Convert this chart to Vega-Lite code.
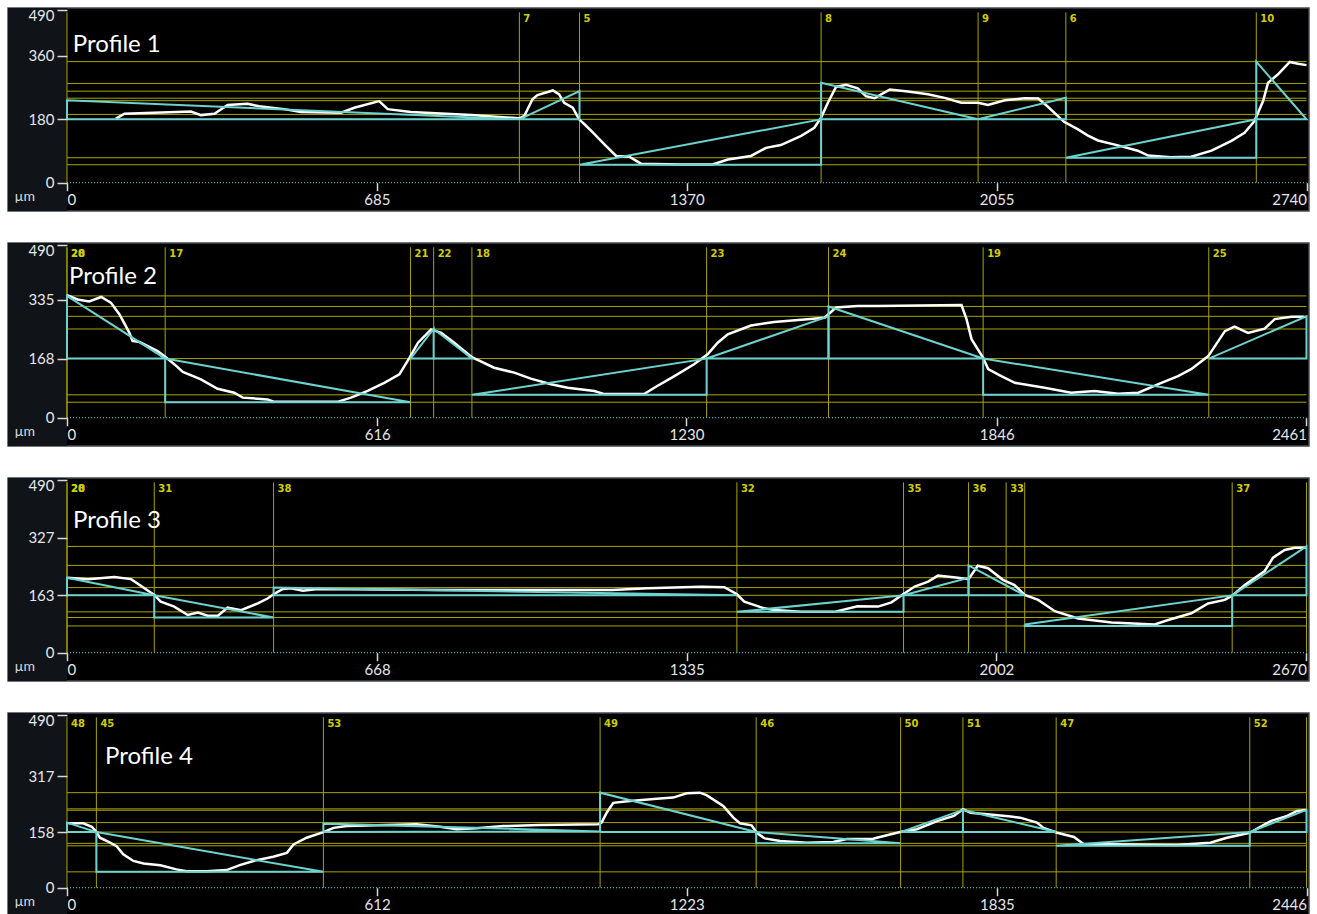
{
"$schema": "https://vega.github.io/schema/vega-lite/v6.json",
"background": "#ffffff",
"padding": {"left": 7, "top": 7, "right": 0, "bottom": 0},
"autosize": {"type": "pad"},
"config": {"view": {"fill": "#000000", "stroke": "#44484d", "strokeWidth": 1.5}},
"spacing": 32,
"bounds": "flush",
"resolve": {"scale": {"x": "independent", "y": "independent"}},
"datasets": {
"levels": [
{"p":1,"y":344},{"p":1,"y":282},{"p":1,"y":260},{"p":1,"y":240},{"p":1,"y":233},{"p":1,"y":194},{"p":1,"y":180},{"p":1,"y":71},{"p":1,"y":51},
{"p":2,"y":346},{"p":2,"y":316},{"p":2,"y":288},{"p":2,"y":252},{"p":2,"y":168},{"p":2,"y":65},{"p":2,"y":44},
{"p":3,"y":302},{"p":3,"y":248},{"p":3,"y":213},{"p":3,"y":185},{"p":3,"y":163},{"p":3,"y":116},{"p":3,"y":100},{"p":3,"y":76},
{"p":4,"y":270},{"p":4,"y":224},{"p":4,"y":220},{"p":4,"y":185},{"p":4,"y":158},{"p":4,"y":126},{"p":4,"y":119},{"p":4,"y":45}
],
"markers": [
{"p":1,"x":0,"label":""},{"p":1,"x":1000,"label":"7"},{"p":1,"x":1133,"label":"5"},{"p":1,"x":1667,"label":"8"},{"p":1,"x":2014,"label":"9"},{"p":1,"x":2208,"label":"6"},{"p":1,"x":2629,"label":"10"},
{"p":2,"x":0,"label":"20"},{"p":2,"x":0,"label":"28"},{"p":2,"x":195,"label":"17"},{"p":2,"x":682,"label":"21"},{"p":2,"x":728,"label":"22"},{"p":2,"x":804,"label":"18"},{"p":2,"x":1270,"label":"23"},{"p":2,"x":1512,"label":"24"},{"p":2,"x":1819,"label":"19"},{"p":2,"x":2267,"label":"25"},
{"p":3,"x":0,"label":"28"},{"p":3,"x":0,"label":"20"},{"p":3,"x":188,"label":"31"},{"p":3,"x":445,"label":"38"},{"p":3,"x":1443,"label":"32"},{"p":3,"x":1802,"label":"35"},{"p":3,"x":1942,"label":"36"},{"p":3,"x":2023,"label":"33"},{"p":3,"x":2063,"label":""},{"p":3,"x":2510,"label":"37"},{"p":3,"x":2670,"label":""},
{"p":4,"x":0,"label":"48"},{"p":4,"x":58,"label":"45"},{"p":4,"x":506,"label":"53"},{"p":4,"x":1052,"label":"49"},{"p":4,"x":1360,"label":"46"},{"p":4,"x":1645,"label":"50"},{"p":4,"x":1768,"label":"51"},{"p":4,"x":1952,"label":"47"},{"p":4,"x":2334,"label":"52"},{"p":4,"x":2446,"label":""}
],
"tri": [
{"p":1,"g":1,"i":0,"x":0,"y":180},{"p":1,"g":1,"i":1,"x":0,"y":234},{"p":1,"g":1,"i":2,"x":1000,"y":180},{"p":1,"g":1,"i":3,"x":0,"y":180},
{"p":1,"g":2,"i":0,"x":1000,"y":180},{"p":1,"g":2,"i":1,"x":1133,"y":260},{"p":1,"g":2,"i":2,"x":1133,"y":180},{"p":1,"g":2,"i":3,"x":1000,"y":180},
{"p":1,"g":3,"i":0,"x":1133,"y":51},{"p":1,"g":3,"i":1,"x":1667,"y":180},{"p":1,"g":3,"i":2,"x":1667,"y":51},{"p":1,"g":3,"i":3,"x":1133,"y":51},
{"p":1,"g":4,"i":0,"x":1667,"y":180},{"p":1,"g":4,"i":1,"x":1667,"y":284},{"p":1,"g":4,"i":2,"x":2014,"y":180},{"p":1,"g":4,"i":3,"x":1667,"y":180},
{"p":1,"g":5,"i":0,"x":2014,"y":180},{"p":1,"g":5,"i":1,"x":2208,"y":241},{"p":1,"g":5,"i":2,"x":2208,"y":180},{"p":1,"g":5,"i":3,"x":2014,"y":180},
{"p":1,"g":6,"i":0,"x":2208,"y":71},{"p":1,"g":6,"i":1,"x":2629,"y":180},{"p":1,"g":6,"i":2,"x":2629,"y":71},{"p":1,"g":6,"i":3,"x":2208,"y":71},
{"p":1,"g":7,"i":0,"x":2629,"y":180},{"p":1,"g":7,"i":1,"x":2629,"y":344},{"p":1,"g":7,"i":2,"x":2740,"y":180},{"p":1,"g":7,"i":3,"x":2629,"y":180},
{"p":2,"g":1,"i":0,"x":0,"y":168},{"p":2,"g":1,"i":1,"x":0,"y":346},{"p":2,"g":1,"i":2,"x":195,"y":168},{"p":2,"g":1,"i":3,"x":0,"y":168},
{"p":2,"g":2,"i":0,"x":195,"y":168},{"p":2,"g":2,"i":1,"x":682,"y":44},{"p":2,"g":2,"i":2,"x":195,"y":44},{"p":2,"g":2,"i":3,"x":195,"y":168},
{"p":2,"g":3,"i":0,"x":682,"y":168},{"p":2,"g":3,"i":1,"x":728,"y":252},{"p":2,"g":3,"i":2,"x":728,"y":168},{"p":2,"g":3,"i":3,"x":682,"y":168},
{"p":2,"g":4,"i":0,"x":728,"y":252},{"p":2,"g":4,"i":1,"x":804,"y":168},{"p":2,"g":4,"i":2,"x":728,"y":168},
{"p":2,"g":5,"i":0,"x":804,"y":65},{"p":2,"g":5,"i":1,"x":1270,"y":168},{"p":2,"g":5,"i":2,"x":1270,"y":65},{"p":2,"g":5,"i":3,"x":804,"y":65},
{"p":2,"g":6,"i":0,"x":1270,"y":168},{"p":2,"g":6,"i":1,"x":1512,"y":288},{"p":2,"g":6,"i":2,"x":1512,"y":168},{"p":2,"g":6,"i":3,"x":1270,"y":168},
{"p":2,"g":7,"i":0,"x":1512,"y":168},{"p":2,"g":7,"i":1,"x":1512,"y":316},{"p":2,"g":7,"i":2,"x":1819,"y":168},{"p":2,"g":7,"i":3,"x":1512,"y":168},
{"p":2,"g":8,"i":0,"x":1819,"y":168},{"p":2,"g":8,"i":1,"x":2267,"y":65},{"p":2,"g":8,"i":2,"x":1819,"y":65},{"p":2,"g":8,"i":3,"x":1819,"y":168},
{"p":2,"g":9,"i":0,"x":2267,"y":168},{"p":2,"g":9,"i":1,"x":2461,"y":288},{"p":2,"g":9,"i":2,"x":2461,"y":168},{"p":2,"g":9,"i":3,"x":2267,"y":168},
{"p":3,"g":1,"i":0,"x":0,"y":163},{"p":3,"g":1,"i":1,"x":0,"y":213},{"p":3,"g":1,"i":2,"x":188,"y":163},{"p":3,"g":1,"i":3,"x":0,"y":163},
{"p":3,"g":2,"i":0,"x":188,"y":163},{"p":3,"g":2,"i":1,"x":445,"y":100},{"p":3,"g":2,"i":2,"x":188,"y":100},{"p":3,"g":2,"i":3,"x":188,"y":163},
{"p":3,"g":3,"i":0,"x":445,"y":163},{"p":3,"g":3,"i":1,"x":445,"y":185},{"p":3,"g":3,"i":2,"x":1443,"y":163},{"p":3,"g":3,"i":3,"x":445,"y":163},
{"p":3,"g":4,"i":0,"x":1443,"y":116},{"p":3,"g":4,"i":1,"x":1802,"y":163},{"p":3,"g":4,"i":2,"x":1802,"y":116},{"p":3,"g":4,"i":3,"x":1443,"y":116},
{"p":3,"g":5,"i":0,"x":1802,"y":163},{"p":3,"g":5,"i":1,"x":1942,"y":213},{"p":3,"g":5,"i":2,"x":1942,"y":163},{"p":3,"g":5,"i":3,"x":1802,"y":163},
{"p":3,"g":6,"i":0,"x":1942,"y":163},{"p":3,"g":6,"i":1,"x":1942,"y":248},{"p":3,"g":6,"i":2,"x":2063,"y":163},{"p":3,"g":6,"i":3,"x":1942,"y":163},
{"p":3,"g":7,"i":0,"x":2063,"y":80},{"p":3,"g":7,"i":1,"x":2510,"y":163},{"p":3,"g":7,"i":2,"x":2510,"y":76},{"p":3,"g":7,"i":3,"x":2063,"y":76},{"p":3,"g":7,"i":4,"x":2063,"y":80},
{"p":3,"g":8,"i":0,"x":2510,"y":163},{"p":3,"g":8,"i":1,"x":2670,"y":302},{"p":3,"g":8,"i":2,"x":2670,"y":163},{"p":3,"g":8,"i":3,"x":2510,"y":163},
{"p":4,"g":1,"i":0,"x":0,"y":158},{"p":4,"g":1,"i":1,"x":0,"y":185},{"p":4,"g":1,"i":2,"x":58,"y":158},{"p":4,"g":1,"i":3,"x":0,"y":158},
{"p":4,"g":2,"i":0,"x":58,"y":158},{"p":4,"g":2,"i":1,"x":506,"y":45},{"p":4,"g":2,"i":2,"x":58,"y":45},{"p":4,"g":2,"i":3,"x":58,"y":158},
{"p":4,"g":3,"i":0,"x":506,"y":158},{"p":4,"g":3,"i":1,"x":506,"y":182},{"p":4,"g":3,"i":2,"x":1052,"y":160},{"p":4,"g":3,"i":3,"x":506,"y":158},
{"p":4,"g":4,"i":0,"x":1052,"y":158},{"p":4,"g":4,"i":1,"x":1052,"y":270},{"p":4,"g":4,"i":2,"x":1360,"y":158},{"p":4,"g":4,"i":3,"x":1052,"y":158},
{"p":4,"g":5,"i":0,"x":1360,"y":158},{"p":4,"g":5,"i":1,"x":1645,"y":126},{"p":4,"g":5,"i":2,"x":1360,"y":126},{"p":4,"g":5,"i":3,"x":1360,"y":158},
{"p":4,"g":6,"i":0,"x":1645,"y":158},{"p":4,"g":6,"i":1,"x":1768,"y":221},{"p":4,"g":6,"i":2,"x":1768,"y":158},{"p":4,"g":6,"i":3,"x":1645,"y":158},
{"p":4,"g":7,"i":0,"x":1768,"y":221},{"p":4,"g":7,"i":1,"x":1952,"y":158},{"p":4,"g":7,"i":2,"x":1768,"y":158},
{"p":4,"g":8,"i":0,"x":1952,"y":119},{"p":4,"g":8,"i":1,"x":2334,"y":158},{"p":4,"g":8,"i":2,"x":2334,"y":119},{"p":4,"g":8,"i":3,"x":1952,"y":119},
{"p":4,"g":9,"i":0,"x":2334,"y":158},{"p":4,"g":9,"i":1,"x":2446,"y":221},{"p":4,"g":9,"i":2,"x":2446,"y":158},{"p":4,"g":9,"i":3,"x":2334,"y":158}
],
"profile": [
{"p":1,"x":108,"y":182},{"p":1,"x":127,"y":196},{"p":1,"x":274,"y":202},{"p":1,"x":296,"y":192},{"p":1,"x":326,"y":196},{"p":1,"x":355,"y":221},{"p":1,"x":399,"y":224},{"p":1,"x":425,"y":217},{"p":1,"x":480,"y":209},{"p":1,"x":517,"y":201},{"p":1,"x":606,"y":199},{"p":1,"x":635,"y":213},{"p":1,"x":690,"y":232},{"p":1,"x":709,"y":209},{"p":1,"x":760,"y":201},{"p":1,"x":893,"y":192},{"p":1,"x":1000,"y":183},{"p":1,"x":1011,"y":190},{"p":1,"x":1029,"y":237},{"p":1,"x":1040,"y":249},{"p":1,"x":1074,"y":262},{"p":1,"x":1088,"y":251},{"p":1,"x":1099,"y":227},{"p":1,"x":1118,"y":213},{"p":1,"x":1132,"y":180},{"p":1,"x":1144,"y":166},{"p":1,"x":1166,"y":138},{"p":1,"x":1188,"y":109},{"p":1,"x":1214,"y":76},{"p":1,"x":1243,"y":74},{"p":1,"x":1269,"y":54},{"p":1,"x":1357,"y":52},{"p":1,"x":1427,"y":52},{"p":1,"x":1461,"y":66},{"p":1,"x":1512,"y":76},{"p":1,"x":1545,"y":99},{"p":1,"x":1578,"y":107},{"p":1,"x":1623,"y":133},{"p":1,"x":1652,"y":156},{"p":1,"x":1667,"y":185},{"p":1,"x":1682,"y":227},{"p":1,"x":1700,"y":272},{"p":1,"x":1722,"y":278},{"p":1,"x":1748,"y":268},{"p":1,"x":1766,"y":246},{"p":1,"x":1785,"y":240},{"p":1,"x":1793,"y":246},{"p":1,"x":1819,"y":265},{"p":1,"x":1859,"y":259},{"p":1,"x":1903,"y":251},{"p":1,"x":1940,"y":241},{"p":1,"x":1977,"y":227},{"p":1,"x":2014,"y":227},{"p":1,"x":2036,"y":221},{"p":1,"x":2073,"y":234},{"p":1,"x":2117,"y":240},{"p":1,"x":2147,"y":239},{"p":1,"x":2169,"y":215},{"p":1,"x":2204,"y":173},{"p":1,"x":2234,"y":152},{"p":1,"x":2257,"y":134},{"p":1,"x":2279,"y":120},{"p":1,"x":2323,"y":106},{"p":1,"x":2367,"y":91},{"p":1,"x":2390,"y":77},{"p":1,"x":2440,"y":72},{"p":1,"x":2485,"y":74},{"p":1,"x":2530,"y":91},{"p":1,"x":2574,"y":119},{"p":1,"x":2603,"y":142},{"p":1,"x":2625,"y":175},{"p":1,"x":2644,"y":232},{"p":1,"x":2655,"y":284},{"p":1,"x":2677,"y":308},{"p":1,"x":2703,"y":343},{"p":1,"x":2721,"y":338},{"p":1,"x":2740,"y":334},
{"p":2,"x":0,"y":348},{"p":2,"x":21,"y":336},{"p":2,"x":44,"y":330},{"p":2,"x":68,"y":343},{"p":2,"x":87,"y":327},{"p":2,"x":104,"y":294},{"p":2,"x":124,"y":241},{"p":2,"x":130,"y":218},{"p":2,"x":144,"y":215},{"p":2,"x":180,"y":189},{"p":2,"x":195,"y":173},{"p":2,"x":213,"y":152},{"p":2,"x":230,"y":130},{"p":2,"x":266,"y":109},{"p":2,"x":299,"y":82},{"p":2,"x":332,"y":71},{"p":2,"x":349,"y":57},{"p":2,"x":398,"y":52},{"p":2,"x":412,"y":45},{"p":2,"x":537,"y":45},{"p":2,"x":564,"y":57},{"p":2,"x":597,"y":76},{"p":2,"x":630,"y":99},{"p":2,"x":660,"y":123},{"p":2,"x":680,"y":170},{"p":2,"x":697,"y":213},{"p":2,"x":723,"y":251},{"p":2,"x":743,"y":241},{"p":2,"x":769,"y":213},{"p":2,"x":804,"y":172},{"p":2,"x":848,"y":142},{"p":2,"x":888,"y":128},{"p":2,"x":921,"y":111},{"p":2,"x":961,"y":95},{"p":2,"x":994,"y":85},{"p":2,"x":1047,"y":76},{"p":2,"x":1067,"y":67},{"p":2,"x":1146,"y":67},{"p":2,"x":1166,"y":85},{"p":2,"x":1206,"y":118},{"p":2,"x":1245,"y":152},{"p":2,"x":1272,"y":180},{"p":2,"x":1292,"y":213},{"p":2,"x":1312,"y":237},{"p":2,"x":1358,"y":262},{"p":2,"x":1404,"y":272},{"p":2,"x":1470,"y":280},{"p":2,"x":1504,"y":284},{"p":2,"x":1527,"y":313},{"p":2,"x":1570,"y":317},{"p":2,"x":1610,"y":317},{"p":2,"x":1776,"y":320},{"p":2,"x":1786,"y":280},{"p":2,"x":1796,"y":223},{"p":2,"x":1819,"y":170},{"p":2,"x":1829,"y":138},{"p":2,"x":1855,"y":118},{"p":2,"x":1882,"y":99},{"p":2,"x":1941,"y":85},{"p":2,"x":1994,"y":71},{"p":2,"x":2040,"y":76},{"p":2,"x":2087,"y":68},{"p":2,"x":2127,"y":71},{"p":2,"x":2173,"y":99},{"p":2,"x":2206,"y":118},{"p":2,"x":2232,"y":138},{"p":2,"x":2266,"y":175},{"p":2,"x":2299,"y":246},{"p":2,"x":2318,"y":259},{"p":2,"x":2345,"y":241},{"p":2,"x":2378,"y":253},{"p":2,"x":2398,"y":280},{"p":2,"x":2431,"y":287},{"p":2,"x":2457,"y":287},
{"p":3,"x":1,"y":213},{"p":3,"x":45,"y":209},{"p":3,"x":102,"y":215},{"p":3,"x":138,"y":209},{"p":3,"x":159,"y":190},{"p":3,"x":188,"y":164},{"p":3,"x":202,"y":145},{"p":3,"x":231,"y":131},{"p":3,"x":260,"y":107},{"p":3,"x":282,"y":114},{"p":3,"x":303,"y":105},{"p":3,"x":325,"y":105},{"p":3,"x":346,"y":128},{"p":3,"x":375,"y":121},{"p":3,"x":411,"y":140},{"p":3,"x":432,"y":154},{"p":3,"x":445,"y":166},{"p":3,"x":465,"y":181},{"p":3,"x":483,"y":183},{"p":3,"x":508,"y":176},{"p":3,"x":540,"y":181},{"p":3,"x":806,"y":178},{"p":3,"x":1175,"y":178},{"p":3,"x":1251,"y":183},{"p":3,"x":1366,"y":187},{"p":3,"x":1416,"y":186},{"p":3,"x":1443,"y":166},{"p":3,"x":1459,"y":145},{"p":3,"x":1502,"y":126},{"p":3,"x":1524,"y":121},{"p":3,"x":1581,"y":116},{"p":3,"x":1653,"y":116},{"p":3,"x":1703,"y":132},{"p":3,"x":1747,"y":131},{"p":3,"x":1776,"y":143},{"p":3,"x":1801,"y":166},{"p":3,"x":1826,"y":188},{"p":3,"x":1855,"y":202},{"p":3,"x":1876,"y":219},{"p":3,"x":1919,"y":213},{"p":3,"x":1942,"y":209},{"p":3,"x":1962,"y":247},{"p":3,"x":1984,"y":240},{"p":3,"x":2016,"y":207},{"p":3,"x":2041,"y":192},{"p":3,"x":2063,"y":164},{"p":3,"x":2092,"y":150},{"p":3,"x":2128,"y":118},{"p":3,"x":2178,"y":97},{"p":3,"x":2250,"y":86},{"p":3,"x":2343,"y":80},{"p":3,"x":2372,"y":93},{"p":3,"x":2422,"y":112},{"p":3,"x":2458,"y":140},{"p":3,"x":2494,"y":150},{"p":3,"x":2510,"y":162},{"p":3,"x":2537,"y":192},{"p":3,"x":2580,"y":232},{"p":3,"x":2598,"y":270},{"p":3,"x":2623,"y":292},{"p":3,"x":2645,"y":298},{"p":3,"x":2670,"y":298},
{"p":4,"x":3,"y":183},{"p":4,"x":32,"y":183},{"p":4,"x":49,"y":173},{"p":4,"x":58,"y":158},{"p":4,"x":65,"y":142},{"p":4,"x":85,"y":128},{"p":4,"x":98,"y":118},{"p":4,"x":111,"y":95},{"p":4,"x":131,"y":76},{"p":4,"x":151,"y":69},{"p":4,"x":184,"y":64},{"p":4,"x":216,"y":52},{"p":4,"x":236,"y":47},{"p":4,"x":276,"y":47},{"p":4,"x":315,"y":50},{"p":4,"x":341,"y":64},{"p":4,"x":368,"y":76},{"p":4,"x":407,"y":88},{"p":4,"x":434,"y":99},{"p":4,"x":447,"y":123},{"p":4,"x":473,"y":142},{"p":4,"x":506,"y":158},{"p":4,"x":526,"y":170},{"p":4,"x":552,"y":175},{"p":4,"x":690,"y":180},{"p":4,"x":736,"y":173},{"p":4,"x":769,"y":166},{"p":4,"x":808,"y":169},{"p":4,"x":861,"y":175},{"p":4,"x":933,"y":178},{"p":4,"x":1048,"y":180},{"p":4,"x":1055,"y":185},{"p":4,"x":1065,"y":213},{"p":4,"x":1078,"y":241},{"p":4,"x":1111,"y":246},{"p":4,"x":1164,"y":253},{"p":4,"x":1196,"y":256},{"p":4,"x":1223,"y":268},{"p":4,"x":1249,"y":270},{"p":4,"x":1262,"y":263},{"p":4,"x":1295,"y":232},{"p":4,"x":1315,"y":199},{"p":4,"x":1328,"y":183},{"p":4,"x":1351,"y":177},{"p":4,"x":1361,"y":156},{"p":4,"x":1377,"y":140},{"p":4,"x":1407,"y":133},{"p":4,"x":1460,"y":128},{"p":4,"x":1512,"y":130},{"p":4,"x":1539,"y":138},{"p":4,"x":1591,"y":139},{"p":4,"x":1598,"y":142},{"p":4,"x":1644,"y":158},{"p":4,"x":1677,"y":166},{"p":4,"x":1717,"y":189},{"p":4,"x":1750,"y":204},{"p":4,"x":1768,"y":223},{"p":4,"x":1783,"y":213},{"p":4,"x":1816,"y":209},{"p":4,"x":1862,"y":202},{"p":4,"x":1881,"y":199},{"p":4,"x":1914,"y":185},{"p":4,"x":1927,"y":170},{"p":4,"x":1954,"y":156},{"p":4,"x":1987,"y":144},{"p":4,"x":2006,"y":124},{"p":4,"x":2190,"y":121},{"p":4,"x":2256,"y":128},{"p":4,"x":2289,"y":142},{"p":4,"x":2334,"y":156},{"p":4,"x":2375,"y":189},{"p":4,"x":2408,"y":204},{"p":4,"x":2427,"y":218},{"p":4,"x":2446,"y":221}
]
},
"vconcat": [
{
"width": 1301, "height": 203,
"layer": [
{"data":{"values":[{}]},"mark":{"type":"rect","color":"#101317","clip":true},"encoding":{"x":{"datum":-500,"type":"quantitative","scale":{"domain":[-130.4,2745.5],"nice":false,"zero":false}},"x2":{"datum":0},"y":{"datum":-200,"type":"quantitative","scale":{"domain":[-80.4,496.3],"nice":false,"zero":false}},"y2":{"datum":700}}},
{"data":{"name":"levels"},"transform":[{"filter":"datum.p==1"}],"mark":{"type":"rule","color":"#a9a300","strokeWidth":1},"encoding":{"x":{"datum":0,"type":"quantitative","scale":{"domain":[-130.4,2745.5],"nice":false,"zero":false}},"x2":{"datum":2740},"y":{"field":"y","type":"quantitative","scale":{"domain":[-80.4,496.3],"nice":false,"zero":false}}}},
{"data":{"name":"markers"},"transform":[{"filter":"datum.p==1"}],"mark":{"type":"rule","color":"#a9a300","strokeWidth":1},"encoding":{"x":{"field":"x","type":"quantitative","scale":{"domain":[-130.4,2745.5],"nice":false,"zero":false}},"y":{"datum":0,"type":"quantitative","scale":{"domain":[-80.4,496.3],"nice":false,"zero":false}},"y2":{"datum":484}}},
{"data":{"values":[{}]},"mark":{"type":"rule","color":"#35b5c0","strokeWidth":1.2,"strokeDash":[1,2]},"encoding":{"x":{"datum":0,"type":"quantitative","scale":{"domain":[-130.4,2745.5],"nice":false,"zero":false}},"x2":{"datum":2740},"y":{"datum":0,"type":"quantitative","scale":{"domain":[-80.4,496.3],"nice":false,"zero":false}}}},
{"data":{"name":"profile"},"transform":[{"filter":"datum.p==1"}],"mark":{"type":"line","color":"#ffffff","strokeWidth":2.5},"encoding":{"x":{"field":"x","type":"quantitative","scale":{"domain":[-130.4,2745.5],"nice":false,"zero":false},"axis":{"values":[0,685,1370,2055,2740],"format":"d","offset":-28.3,"domain":false,"grid":false,"tickColor":"#d8d8d8","tickSize":8,"tickWidth":1.5,"labelColor":"#e6e6e6","labelFont":"Lato","labelFontSize":15,"labelPadding":2,"labelFlush":62,"labelOverlap":false,"title":null,"zindex":2}},"y":{"field":"y","type":"quantitative","scale":{"domain":[-80.4,496.3],"nice":false,"zero":false},"axis":{"values":[0,180,360,490],"format":"d","offset":-59,"domain":false,"grid":false,"tickColor":"#d8d8d8","tickSize":10,"tickWidth":1.5,"labelColor":"#e6e6e6","labelFont":"Lato","labelFontSize":15,"labelPadding":3,"labelFlush":10,"labelFlushOffset":2,"labelOverlap":false,"title":"µm","titleAngle":0,"titleX":-53,"titleY":188,"titleAlign":"left","titleBaseline":"middle","titleColor":"#d8d8d8","titleFont":"Lato","titleFontSize":14,"titleFontWeight":"normal","zindex":2}}}},
{"data":{"name":"tri"},"transform":[{"filter":"datum.p==1"}],"mark":{"type":"line","color":"#6cd3cf","strokeWidth":2},"encoding":{"x":{"field":"x","type":"quantitative","scale":{"domain":[-130.4,2745.5],"nice":false,"zero":false}},"y":{"field":"y","type":"quantitative","scale":{"domain":[-80.4,496.3],"nice":false,"zero":false}},"detail":{"field":"g"},"order":{"field":"i"}}},
{"data":{"name":"markers"},"transform":[{"filter":"datum.p==1"}],"mark":{"type":"text","color":"#d2cd00","font":"DejaVu Sans","fontWeight":"bold","fontSize":10,"align":"left","baseline":"middle","dx":4},"encoding":{"x":{"field":"x","type":"quantitative","scale":{"domain":[-130.4,2745.5],"nice":false,"zero":false}},"y":{"datum":466,"type":"quantitative","scale":{"domain":[-80.4,496.3],"nice":false,"zero":false}},"text":{"field":"label"}}},
{"data":{"values":[{}]},"mark":{"type":"text","color":"#ffffff","font":"Lato","fontSize":24,"align":"left","baseline":"middle","text":"Profile 1"},"encoding":{"x":{"datum":13,"type":"quantitative","scale":{"domain":[-130.4,2745.5],"nice":false,"zero":false}},"y":{"datum":391,"type":"quantitative","scale":{"domain":[-80.4,496.3],"nice":false,"zero":false}}}}
]
},
{
"width": 1301, "height": 203,
"layer": [
{"data":{"values":[{}]},"mark":{"type":"rect","color":"#101317","clip":true},"encoding":{"x":{"datum":-500,"type":"quantitative","scale":{"domain":[-117.1,2466],"nice":false,"zero":false}},"x2":{"datum":0},"y":{"datum":-200,"type":"quantitative","scale":{"domain":[-80.4,496.3],"nice":false,"zero":false}},"y2":{"datum":700}}},
{"data":{"name":"levels"},"transform":[{"filter":"datum.p==2"}],"mark":{"type":"rule","color":"#a9a300","strokeWidth":1},"encoding":{"x":{"datum":0,"type":"quantitative","scale":{"domain":[-117.1,2466],"nice":false,"zero":false}},"x2":{"datum":2461},"y":{"field":"y","type":"quantitative","scale":{"domain":[-80.4,496.3],"nice":false,"zero":false}}}},
{"data":{"name":"markers"},"transform":[{"filter":"datum.p==2"}],"mark":{"type":"rule","color":"#a9a300","strokeWidth":1},"encoding":{"x":{"field":"x","type":"quantitative","scale":{"domain":[-117.1,2466],"nice":false,"zero":false}},"y":{"datum":0,"type":"quantitative","scale":{"domain":[-80.4,496.3],"nice":false,"zero":false}},"y2":{"datum":484}}},
{"data":{"values":[{}]},"mark":{"type":"rule","color":"#35b5c0","strokeWidth":1.2,"strokeDash":[1,2]},"encoding":{"x":{"datum":0,"type":"quantitative","scale":{"domain":[-117.1,2466],"nice":false,"zero":false}},"x2":{"datum":2461},"y":{"datum":0,"type":"quantitative","scale":{"domain":[-80.4,496.3],"nice":false,"zero":false}}}},
{"data":{"name":"profile"},"transform":[{"filter":"datum.p==2"}],"mark":{"type":"line","color":"#ffffff","strokeWidth":2.5},"encoding":{"x":{"field":"x","type":"quantitative","scale":{"domain":[-117.1,2466],"nice":false,"zero":false},"axis":{"values":[0,616,1230,1846,2461],"format":"d","offset":-28.3,"domain":false,"grid":false,"tickColor":"#d8d8d8","tickSize":8,"tickWidth":1.5,"labelColor":"#e6e6e6","labelFont":"Lato","labelFontSize":15,"labelPadding":2,"labelFlush":62,"labelOverlap":false,"title":null,"zindex":2}},"y":{"field":"y","type":"quantitative","scale":{"domain":[-80.4,496.3],"nice":false,"zero":false},"axis":{"values":[0,168,335,490],"format":"d","offset":-59,"domain":false,"grid":false,"tickColor":"#d8d8d8","tickSize":10,"tickWidth":1.5,"labelColor":"#e6e6e6","labelFont":"Lato","labelFontSize":15,"labelPadding":3,"labelFlush":10,"labelFlushOffset":2,"labelOverlap":false,"title":"µm","titleAngle":0,"titleX":-53,"titleY":188,"titleAlign":"left","titleBaseline":"middle","titleColor":"#d8d8d8","titleFont":"Lato","titleFontSize":14,"titleFontWeight":"normal","zindex":2}}}},
{"data":{"name":"tri"},"transform":[{"filter":"datum.p==2"}],"mark":{"type":"line","color":"#6cd3cf","strokeWidth":2},"encoding":{"x":{"field":"x","type":"quantitative","scale":{"domain":[-117.1,2466],"nice":false,"zero":false}},"y":{"field":"y","type":"quantitative","scale":{"domain":[-80.4,496.3],"nice":false,"zero":false}},"detail":{"field":"g"},"order":{"field":"i"}}},
{"data":{"name":"markers"},"transform":[{"filter":"datum.p==2"}],"mark":{"type":"text","color":"#d2cd00","font":"DejaVu Sans","fontWeight":"bold","fontSize":10,"align":"left","baseline":"middle","dx":4},"encoding":{"x":{"field":"x","type":"quantitative","scale":{"domain":[-117.1,2466],"nice":false,"zero":false}},"y":{"datum":466,"type":"quantitative","scale":{"domain":[-80.4,496.3],"nice":false,"zero":false}},"text":{"field":"label"}}},
{"data":{"values":[{}]},"mark":{"type":"text","color":"#ffffff","font":"Lato","fontSize":24,"align":"left","baseline":"middle","text":"Profile 2"},"encoding":{"x":{"datum":4,"type":"quantitative","scale":{"domain":[-117.1,2466],"nice":false,"zero":false}},"y":{"datum":400,"type":"quantitative","scale":{"domain":[-80.4,496.3],"nice":false,"zero":false}}}}
]
},
{
"width": 1301, "height": 203,
"layer": [
{"data":{"values":[{}]},"mark":{"type":"rect","color":"#101317","clip":true},"encoding":{"x":{"datum":-500,"type":"quantitative","scale":{"domain":[-127.1,2675.4],"nice":false,"zero":false}},"x2":{"datum":0},"y":{"datum":-200,"type":"quantitative","scale":{"domain":[-80.4,496.3],"nice":false,"zero":false}},"y2":{"datum":700}}},
{"data":{"name":"levels"},"transform":[{"filter":"datum.p==3"}],"mark":{"type":"rule","color":"#a9a300","strokeWidth":1},"encoding":{"x":{"datum":0,"type":"quantitative","scale":{"domain":[-127.1,2675.4],"nice":false,"zero":false}},"x2":{"datum":2670},"y":{"field":"y","type":"quantitative","scale":{"domain":[-80.4,496.3],"nice":false,"zero":false}}}},
{"data":{"name":"markers"},"transform":[{"filter":"datum.p==3"}],"mark":{"type":"rule","color":"#a9a300","strokeWidth":1},"encoding":{"x":{"field":"x","type":"quantitative","scale":{"domain":[-127.1,2675.4],"nice":false,"zero":false}},"y":{"datum":0,"type":"quantitative","scale":{"domain":[-80.4,496.3],"nice":false,"zero":false}},"y2":{"datum":484}}},
{"data":{"values":[{}]},"mark":{"type":"rule","color":"#35b5c0","strokeWidth":1.2,"strokeDash":[1,2]},"encoding":{"x":{"datum":0,"type":"quantitative","scale":{"domain":[-127.1,2675.4],"nice":false,"zero":false}},"x2":{"datum":2670},"y":{"datum":0,"type":"quantitative","scale":{"domain":[-80.4,496.3],"nice":false,"zero":false}}}},
{"data":{"name":"profile"},"transform":[{"filter":"datum.p==3"}],"mark":{"type":"line","color":"#ffffff","strokeWidth":2.5},"encoding":{"x":{"field":"x","type":"quantitative","scale":{"domain":[-127.1,2675.4],"nice":false,"zero":false},"axis":{"values":[0,668,1335,2002,2670],"format":"d","offset":-28.3,"domain":false,"grid":false,"tickColor":"#d8d8d8","tickSize":8,"tickWidth":1.5,"labelColor":"#e6e6e6","labelFont":"Lato","labelFontSize":15,"labelPadding":2,"labelFlush":62,"labelOverlap":false,"title":null,"zindex":2}},"y":{"field":"y","type":"quantitative","scale":{"domain":[-80.4,496.3],"nice":false,"zero":false},"axis":{"values":[0,163,327,490],"format":"d","offset":-59,"domain":false,"grid":false,"tickColor":"#d8d8d8","tickSize":10,"tickWidth":1.5,"labelColor":"#e6e6e6","labelFont":"Lato","labelFontSize":15,"labelPadding":3,"labelFlush":10,"labelFlushOffset":2,"labelOverlap":false,"title":"µm","titleAngle":0,"titleX":-53,"titleY":188,"titleAlign":"left","titleBaseline":"middle","titleColor":"#d8d8d8","titleFont":"Lato","titleFontSize":14,"titleFontWeight":"normal","zindex":2}}}},
{"data":{"name":"tri"},"transform":[{"filter":"datum.p==3"}],"mark":{"type":"line","color":"#6cd3cf","strokeWidth":2},"encoding":{"x":{"field":"x","type":"quantitative","scale":{"domain":[-127.1,2675.4],"nice":false,"zero":false}},"y":{"field":"y","type":"quantitative","scale":{"domain":[-80.4,496.3],"nice":false,"zero":false}},"detail":{"field":"g"},"order":{"field":"i"}}},
{"data":{"name":"markers"},"transform":[{"filter":"datum.p==3"}],"mark":{"type":"text","color":"#d2cd00","font":"DejaVu Sans","fontWeight":"bold","fontSize":10,"align":"left","baseline":"middle","dx":4},"encoding":{"x":{"field":"x","type":"quantitative","scale":{"domain":[-127.1,2675.4],"nice":false,"zero":false}},"y":{"datum":466,"type":"quantitative","scale":{"domain":[-80.4,496.3],"nice":false,"zero":false}},"text":{"field":"label"}}},
{"data":{"values":[{}]},"mark":{"type":"text","color":"#ffffff","font":"Lato","fontSize":24,"align":"left","baseline":"middle","text":"Profile 3"},"encoding":{"x":{"datum":13,"type":"quantitative","scale":{"domain":[-127.1,2675.4],"nice":false,"zero":false}},"y":{"datum":374,"type":"quantitative","scale":{"domain":[-80.4,496.3],"nice":false,"zero":false}}}}
]
},
{
"width": 1301, "height": 203,
"layer": [
{"data":{"values":[{}]},"mark":{"type":"rect","color":"#101317","clip":true},"encoding":{"x":{"datum":-500,"type":"quantitative","scale":{"domain":[-116.4,2450.9],"nice":false,"zero":false}},"x2":{"datum":0},"y":{"datum":-200,"type":"quantitative","scale":{"domain":[-80.4,496.3],"nice":false,"zero":false}},"y2":{"datum":700}}},
{"data":{"name":"levels"},"transform":[{"filter":"datum.p==4"}],"mark":{"type":"rule","color":"#a9a300","strokeWidth":1},"encoding":{"x":{"datum":0,"type":"quantitative","scale":{"domain":[-116.4,2450.9],"nice":false,"zero":false}},"x2":{"datum":2446},"y":{"field":"y","type":"quantitative","scale":{"domain":[-80.4,496.3],"nice":false,"zero":false}}}},
{"data":{"name":"markers"},"transform":[{"filter":"datum.p==4"}],"mark":{"type":"rule","color":"#a9a300","strokeWidth":1},"encoding":{"x":{"field":"x","type":"quantitative","scale":{"domain":[-116.4,2450.9],"nice":false,"zero":false}},"y":{"datum":0,"type":"quantitative","scale":{"domain":[-80.4,496.3],"nice":false,"zero":false}},"y2":{"datum":484}}},
{"data":{"values":[{}]},"mark":{"type":"rule","color":"#35b5c0","strokeWidth":1.2,"strokeDash":[1,2]},"encoding":{"x":{"datum":0,"type":"quantitative","scale":{"domain":[-116.4,2450.9],"nice":false,"zero":false}},"x2":{"datum":2446},"y":{"datum":0,"type":"quantitative","scale":{"domain":[-80.4,496.3],"nice":false,"zero":false}}}},
{"data":{"name":"profile"},"transform":[{"filter":"datum.p==4"}],"mark":{"type":"line","color":"#ffffff","strokeWidth":2.5},"encoding":{"x":{"field":"x","type":"quantitative","scale":{"domain":[-116.4,2450.9],"nice":false,"zero":false},"axis":{"values":[0,612,1223,1835,2446],"format":"d","offset":-28.3,"domain":false,"grid":false,"tickColor":"#d8d8d8","tickSize":8,"tickWidth":1.5,"labelColor":"#e6e6e6","labelFont":"Lato","labelFontSize":15,"labelPadding":2,"labelFlush":62,"labelOverlap":false,"title":null,"zindex":2}},"y":{"field":"y","type":"quantitative","scale":{"domain":[-80.4,496.3],"nice":false,"zero":false},"axis":{"values":[0,158,317,490],"format":"d","offset":-59,"domain":false,"grid":false,"tickColor":"#d8d8d8","tickSize":10,"tickWidth":1.5,"labelColor":"#e6e6e6","labelFont":"Lato","labelFontSize":15,"labelPadding":3,"labelFlush":10,"labelFlushOffset":2,"labelOverlap":false,"title":"µm","titleAngle":0,"titleX":-53,"titleY":188,"titleAlign":"left","titleBaseline":"middle","titleColor":"#d8d8d8","titleFont":"Lato","titleFontSize":14,"titleFontWeight":"normal","zindex":2}}}},
{"data":{"name":"tri"},"transform":[{"filter":"datum.p==4"}],"mark":{"type":"line","color":"#6cd3cf","strokeWidth":2},"encoding":{"x":{"field":"x","type":"quantitative","scale":{"domain":[-116.4,2450.9],"nice":false,"zero":false}},"y":{"field":"y","type":"quantitative","scale":{"domain":[-80.4,496.3],"nice":false,"zero":false}},"detail":{"field":"g"},"order":{"field":"i"}}},
{"data":{"name":"markers"},"transform":[{"filter":"datum.p==4"}],"mark":{"type":"text","color":"#d2cd00","font":"DejaVu Sans","fontWeight":"bold","fontSize":10,"align":"left","baseline":"middle","dx":4},"encoding":{"x":{"field":"x","type":"quantitative","scale":{"domain":[-116.4,2450.9],"nice":false,"zero":false}},"y":{"datum":466,"type":"quantitative","scale":{"domain":[-80.4,496.3],"nice":false,"zero":false}},"text":{"field":"label"}}},
{"data":{"values":[{}]},"mark":{"type":"text","color":"#ffffff","font":"Lato","fontSize":24,"align":"left","baseline":"middle","text":"Profile 4"},"encoding":{"x":{"datum":75,"type":"quantitative","scale":{"domain":[-116.4,2450.9],"nice":false,"zero":false}},"y":{"datum":371,"type":"quantitative","scale":{"domain":[-80.4,496.3],"nice":false,"zero":false}}}}
]
}
]
}
